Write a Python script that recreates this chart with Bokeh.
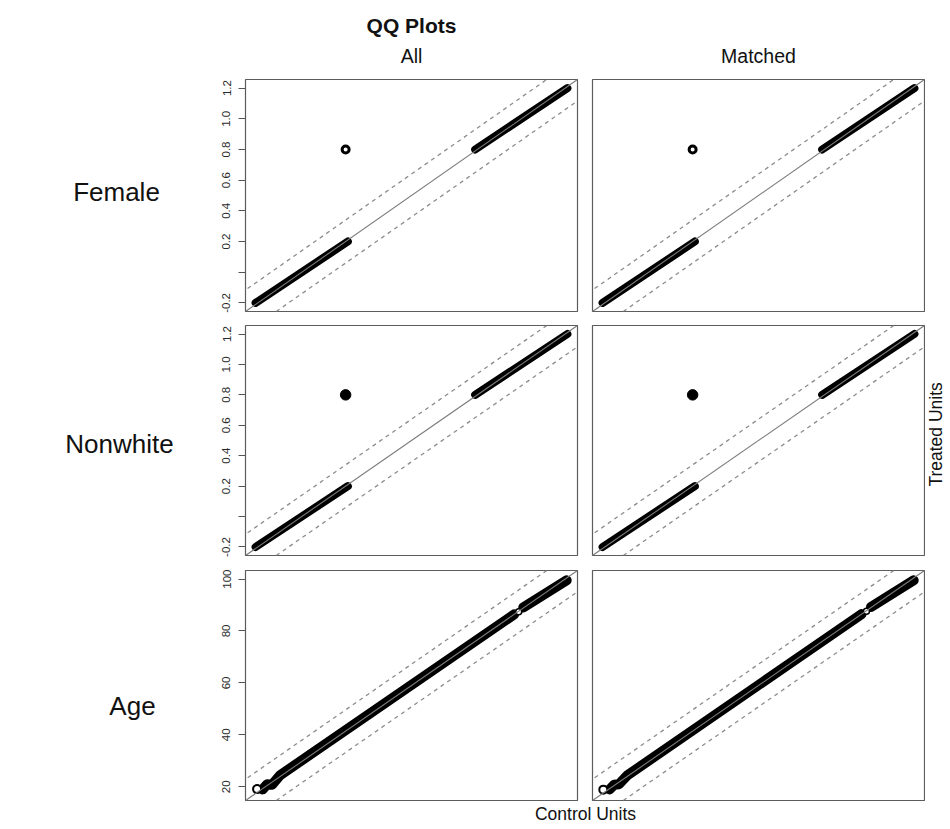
import math
from bokeh.plotting import figure
from bokeh.models import Range1d, Slope, FixedTicker
from bokeh.layouts import row, column
from bokeh.embed import file_html
from bokeh.resources import INLINE
from bokeh.core.properties import value

FONT = "Liberation Sans"

# ---------------- data ----------------
main_title = "QQ Plots"
col_titles = ["All", "Matched"]
row_titles = ["Female", "Nonwhite", "Age"]
x_title = "Control Units"
y_title = "Treated Units"

bin_range = [-0.2, 1.2]
age_range = [18, 100]
bin_ticks = [-0.2, 0.0, 0.2, 0.4, 0.6, 0.8, 1.0, 1.2]
bin_tick_labels = ["-0.2", "", "0.2", "0.4", "0.6", "0.8", "1.0", "1.2"]
age_ticks = [20, 40, 60, 80, 100]
age_tick_labels = ["20", "40", "60", "80", "100"]

# quantile bands: control quantiles (x) vs treated quantiles (y)
female_all_low_ctrl = [-0.21, 0.21]
female_all_low_trt = [-0.2, 0.2]
female_all_high_ctrl = [0.79, 1.21]
female_all_high_trt = [0.8, 1.2]
female_all_odd_ctrl = [0.2]
female_all_odd_trt = [0.8]

female_m_low_ctrl = [-0.21, 0.21]
female_m_low_trt = [-0.2, 0.2]
female_m_high_ctrl = [0.79, 1.21]
female_m_high_trt = [0.8, 1.2]
female_m_odd_ctrl = [0.2]
female_m_odd_trt = [0.8]

nonwhite_all_low_ctrl = [-0.21, 0.21]
nonwhite_all_low_trt = [-0.2, 0.2]
nonwhite_all_high_ctrl = [0.79, 1.21]
nonwhite_all_high_trt = [0.8, 1.2]
nonwhite_all_odd_ctrl = [0.2]
nonwhite_all_odd_trt = [0.8]

nonwhite_m_low_ctrl = [-0.21, 0.21]
nonwhite_m_low_trt = [-0.2, 0.2]
nonwhite_m_high_ctrl = [0.79, 1.21]
nonwhite_m_high_trt = [0.8, 1.2]
nonwhite_m_odd_ctrl = [0.2]
nonwhite_m_odd_trt = [0.8]

age_all_low_ctrl = [19.3, 20.5, 21.8, 24.0, 86.4]
age_all_low_trt = [19.0, 21.0, 20.8, 24.5, 86.4]
age_all_high_ctrl = [88.8, 100.4]
age_all_high_trt = [89.0, 99.5]
age_all_start_ctrl = [17.8]
age_all_start_trt = [19.1]
age_all_gap_ctrl = [87.6]
age_all_gap_trt = [87.4]

age_m_low_ctrl = [19.3, 20.5, 21.8, 24.0, 86.5]
age_m_low_trt = [19.0, 20.8, 21.0, 24.4, 86.5]
age_m_high_ctrl = [89.0, 100.4]
age_m_high_trt = [89.2, 99.5]
age_m_start_ctrl = [17.6]
age_m_start_trt = [18.9]
age_m_gap_ctrl = [87.8]
age_m_gap_trt = [87.6]

# width of the discrepancy bands, as a share of the data range
band_share = 0.1

# ---------------- helpers ----------------
OUTLINE = "#5c5c5c"


def text_fig(w, h):
    p = figure(width=w, height=h, x_range=Range1d(0, w), y_range=Range1d(0, h),
               output_backend="svg", toolbar_location=None, min_border=0,
               x_axis_location=None, y_axis_location=None, title=None)
    p.outline_line_color = None
    p.grid.visible = False
    return p


def put_text(p, x, y, txt, size, bold=False, angle=0.0, baseline="alphabetic"):
    p.text(x=[x], y=[y], text=[txt], text_font=value(FONT),
           text_font_size=value(size), text_font_style="bold" if bold else "normal",
           text_align="center", text_baseline=baseline, text_color="#111111",
           angle=angle)


def panel(rng, fh, show_axis, ticks, labels, borders):
    lo, hi = rng
    pad = 0.04 * (hi - lo)
    mt, mr, mb, ml = borders
    p = figure(frame_width=332, frame_height=fh,
               x_range=Range1d(lo - pad, hi + pad), y_range=Range1d(lo - pad, hi + pad),
               output_backend="svg", toolbar_location=None, title=None,
               x_axis_location=None, y_axis_location="left" if show_axis else None,
               min_border=0, min_border_top=mt, min_border_right=mr,
               min_border_bottom=mb, min_border_left=ml)
    p.grid.visible = False
    p.outline_line_color = OUTLINE
    p.outline_line_width = 1.2
    if show_axis:
        ax = p.yaxis[0]
        ax.ticker = FixedTicker(ticks=ticks)
        ax.major_label_overrides = {t: l for t, l in zip(ticks, labels)}
        ax.major_label_orientation = "vertical"
        ax.major_label_text_font = FONT
        ax.major_label_text_font_size = "11.5px"
        ax.major_label_text_color = "#2a2a2a"
        ax.major_label_standoff = 8
        ax.axis_line_color = None
        ax.major_tick_line_color = "#555555"
        ax.major_tick_out = 7
        ax.major_tick_in = 0
        ax.minor_tick_line_color = None
    band = band_share * (hi - lo)
    p.add_layout(Slope(gradient=1, y_intercept=0, line_color="#7a7a7a", line_width=1.1))
    for s in (band, -band):
        p.add_layout(Slope(gradient=1, y_intercept=s, line_color="#8c8c8c",
                           line_width=1.3, line_dash="4 4"))
    return p


def band_line(p, xs, ys, w):
    p.line(xs, ys, line_color="black", line_width=w, line_cap="round", line_join="round")


def dot(p, xs, ys, size, lw, fill):
    p.scatter(xs, ys, marker="circle", size=size, line_color="black",
              line_width=lw, fill_color=fill)


# ---------------- layout geometry ----------------
LABEL_W = 205
HEAD_H = 78
FOOT_H = 27
BIN_W = 8
AGE_W = 10

# header
head = text_fig(950, HEAD_H)
put_text(head, 411, HEAD_H - 25, main_title, "21px", bold=True)
put_text(head, 411, HEAD_H - 55, col_titles[0], "19.5px")
put_text(head, 758, HEAD_H - 55, col_titles[1], "19.5px")

# row 1: Female
r1_h = 1 + 232 + 13
lab1 = text_fig(LABEL_W, r1_h)
put_text(lab1, 116, r1_h - 119, row_titles[0], "26px")
f_all = panel(bin_range, 232, True, bin_ticks, bin_tick_labels, (1, 7, 13, 40))
band_line(f_all, female_all_low_ctrl, female_all_low_trt, BIN_W)
band_line(f_all, female_all_high_ctrl, female_all_high_trt, BIN_W)
dot(f_all, female_all_odd_ctrl, female_all_odd_trt, 7, 3, "white")
f_m = panel(bin_range, 232, False, bin_ticks, bin_tick_labels, (1, 1, 13, 8))
band_line(f_m, female_m_low_ctrl, female_m_low_trt, BIN_W)
band_line(f_m, female_m_high_ctrl, female_m_high_trt, BIN_W)
dot(f_m, female_m_odd_ctrl, female_m_odd_trt, 7, 3, "white")

# row 2: Nonwhite
r2_h = 1 + 230 + 14
lab2 = text_fig(LABEL_W, r2_h)
put_text(lab2, 119, r2_h - 126, row_titles[1], "26px")
n_all = panel(bin_range, 230, True, bin_ticks, bin_tick_labels, (1, 7, 14, 40))
band_line(n_all, nonwhite_all_low_ctrl, nonwhite_all_low_trt, BIN_W)
band_line(n_all, nonwhite_all_high_ctrl, nonwhite_all_high_trt, BIN_W)
dot(n_all, nonwhite_all_odd_ctrl, nonwhite_all_odd_trt, 10.5, 1, "black")
n_m = panel(bin_range, 230, False, bin_ticks, bin_tick_labels, (1, 1, 14, 8))
band_line(n_m, nonwhite_m_low_ctrl, nonwhite_m_low_trt, BIN_W)
band_line(n_m, nonwhite_m_high_ctrl, nonwhite_m_high_trt, BIN_W)
dot(n_m, nonwhite_m_odd_ctrl, nonwhite_m_odd_trt, 10.5, 1, "black")
SIDE_W = 950 - (LABEL_W + 379 + 341)
side = text_fig(SIDE_W, r2_h)
put_text(side, 10.5, r2_h - 116, y_title, "17.5px", angle=math.pi / 2, baseline="middle")

# row 3: Age
r3_h = 1 + 230 + 1
lab3 = text_fig(LABEL_W, r3_h)
put_text(lab3, 132, r3_h - 137, row_titles[2], "26px")
a_all = panel(age_range, 230, True, age_ticks, age_tick_labels, (1, 7, 1, 40))
band_line(a_all, age_all_low_ctrl, age_all_low_trt, AGE_W)
band_line(a_all, age_all_high_ctrl, age_all_high_trt, AGE_W)
dot(a_all, age_all_start_ctrl, age_all_start_trt, 8, 2, "white")
dot(a_all, age_all_gap_ctrl, age_all_gap_trt, 6, 1.5, "white")
a_m = panel(age_range, 230, False, age_ticks, age_tick_labels, (1, 1, 1, 8))
band_line(a_m, age_m_low_ctrl, age_m_low_trt, AGE_W)
band_line(a_m, age_m_high_ctrl, age_m_high_trt, AGE_W)
dot(a_m, age_m_start_ctrl, age_m_start_trt, 8, 2, "white")
dot(a_m, age_m_gap_ctrl, age_m_gap_trt, 6, 1.5, "white")

# footer
foot = text_fig(950, FOOT_H)
put_text(foot, 585, FOOT_H / 2 + 1, x_title, "17.5px", baseline="middle")

layout = column(
    head,
    row(lab1, f_all, f_m),
    row(lab2, n_all, n_m, side),
    row(lab3, a_all, a_m),
    foot,
)

open("out.html", "w").write(file_html(layout, INLINE))
